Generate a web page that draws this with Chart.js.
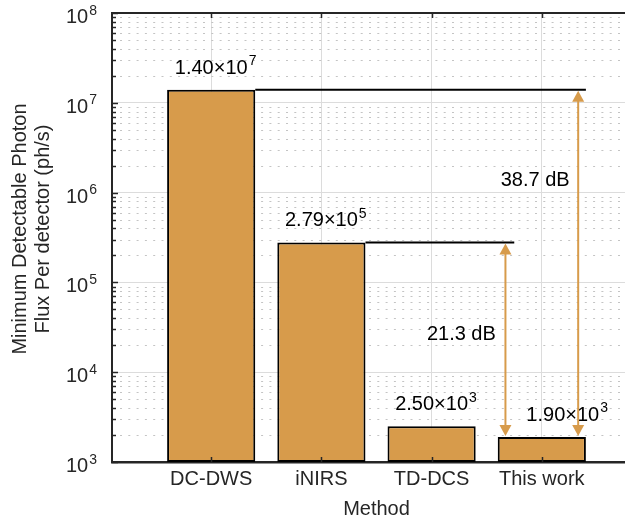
<!DOCTYPE html>
<html>
<head>
<meta charset="utf-8">
<script src="https://cdn.jsdelivr.net/npm/chart.js@4/dist/chart.umd.min.js"></script>
<style>
  html, body { margin: 0; padding: 0; background: #fff; overflow: hidden; }
  #wrap { width: 625px; height: 522px; overflow: hidden; }
  canvas { display: block; }
</style>
</head>
<body>
<div id="wrap">
  <canvas id="fluxChart" width="660" height="522" style="width:660px;height:522px"></canvas>
</div>
<script>
  var methods = ['DC-DWS', 'iNIRS', 'TD-DCS', 'This work'];
  var positions = [1, 2, 3, 4];
  var minFlux = [1.40e7, 2.79e5, 2.50e3, 1.90e3];
  var fluxMantissa = ['1.40', '2.79', '2.50', '1.90'];
  var fluxExponent = ['7', '5', '3', '3'];
  var fluxLabelX = [1.04, 2.04, 3.04, 4.23];
  var decades = [3, 4, 5, 6, 7, 8];

  // dB gaps between the reference methods and this work
  var gapFrom = [1.40e7, 2.79e5];
  var gapTo = [1.90e3, 1.90e3];
  var gapText = ['38.7 dB', '21.3 dB'];
  var gapArrowX = [4.33, 3.67];
  var gapLineStart = [1.4, 2.4];
  var gapLineEnd = [4.4, 3.75];
  var gapLabelX = [3.94, 3.27];
  var gapLabelY = [1.35e6, 2.6e4];

  var FONT = '"Liberation Sans", Arial, Helvetica, sans-serif';
  var INK = '#262626';
  var BAR = '#d79b4b';

  // number like 10^7 : base text with a raised exponent
  function drawPower(ctx, base, exp, x, y, size, supSize, align) {
    ctx.font = size + 'px ' + FONT;
    var wb = ctx.measureText(base).width;
    ctx.font = supSize + 'px ' + FONT;
    var we = ctx.measureText(exp).width;
    var left = align === 'right' ? x - wb - we - 1 : x - (wb + we + 1) / 2;
    ctx.textAlign = 'left';
    ctx.textBaseline = 'alphabetic';
    ctx.font = size + 'px ' + FONT;
    ctx.fillText(base, left, y);
    ctx.font = supSize + 'px ' + FONT;
    ctx.fillText(exp, left + wb + 1, y - 8.5);
  }

  function arrowHead(ctx, x, y, dir) {
    ctx.beginPath();
    ctx.moveTo(x, y);
    ctx.lineTo(x - 6, y + dir * 11);
    ctx.lineTo(x + 6, y + dir * 11);
    ctx.closePath();
    ctx.fill();
  }

  var minorGrid = {
    id: 'minorGrid',
    beforeDatasetsDraw: function (chart) {
      var ctx = chart.ctx, area = chart.chartArea, y = chart.scales.y;
      ctx.save();
      ctx.strokeStyle = '#c4c4c4';
      ctx.lineWidth = 1;
      ctx.setLineDash([2, 6.3]);
      decades.slice(0, -1).forEach(function (d) {
        for (var m = 2; m <= 9; m++) {
          var py = Math.round(y.getPixelForValue(m * Math.pow(10, d))) + 0.5;
          ctx.beginPath();
          ctx.moveTo(area.left + 8, py);
          ctx.lineTo(area.right, py);
          ctx.stroke();
        }
      });
      ctx.restore();
    }
  };

  var annotations = {
    id: 'annotations',
    afterDatasetsDraw: function (chart) {
      var ctx = chart.ctx, x = chart.scales.x, y = chart.scales.y;
      ctx.save();

      // value labels over the bars
      ctx.fillStyle = '#000';
      minFlux.forEach(function (v, i) {
        drawPower(ctx, fluxMantissa[i] + '\u00d710', fluxExponent[i],
          x.getPixelForValue(fluxLabelX[i]), y.getPixelForValue(v) - 16, 20, 14, 'center');
      });

      gapFrom.forEach(function (v, i) {
        var top = y.getPixelForValue(v);
        var bottom = y.getPixelForValue(gapTo[i]);
        var ax = x.getPixelForValue(gapArrowX[i]);

        ctx.strokeStyle = '#000';
        ctx.lineWidth = 2;
        ctx.beginPath();
        ctx.moveTo(x.getPixelForValue(gapLineStart[i]), top);
        ctx.lineTo(x.getPixelForValue(gapLineEnd[i]), top);
        ctx.stroke();

        ctx.strokeStyle = BAR;
        ctx.fillStyle = BAR;
        ctx.beginPath();
        ctx.moveTo(ax, top + 8);
        ctx.lineTo(ax, bottom - 8);
        ctx.stroke();
        arrowHead(ctx, ax, top + 1, 1);
        arrowHead(ctx, ax, bottom - 1, -1);

        ctx.fillStyle = '#000';
        ctx.font = '20px ' + FONT;
        ctx.textAlign = 'center';
        ctx.textBaseline = 'middle';
        ctx.fillText(gapText[i], x.getPixelForValue(gapLabelX[i]), y.getPixelForValue(gapLabelY[i]));
      });
      ctx.restore();
    },
    afterDraw: function (chart) {
      var ctx = chart.ctx, area = chart.chartArea, x = chart.scales.x, y = chart.scales.y;
      ctx.save();
      ctx.strokeStyle = INK;
      ctx.fillStyle = INK;

      // top box edge
      ctx.lineWidth = 2;
      ctx.beginPath();
      ctx.moveTo(area.left - 1, area.top);
      ctx.lineTo(area.right, area.top);
      ctx.stroke();

      // inward tick marks
      ctx.lineWidth = 1.5;
      positions.forEach(function (p) {
        var px = Math.round(x.getPixelForValue(p)) + 0.5;
        ctx.beginPath();
        ctx.moveTo(px, area.bottom);
        ctx.lineTo(px, area.bottom - 5);
        ctx.moveTo(px, area.top);
        ctx.lineTo(px, area.top + 5);
        ctx.stroke();
      });
      decades.forEach(function (d, k) {
        for (var m = 1; m <= 9; m++) {
          if (m > 1 && k === decades.length - 1) break;
          var py = Math.round(y.getPixelForValue(m * Math.pow(10, d))) + 0.5;
          ctx.beginPath();
          ctx.moveTo(area.left, py);
          ctx.lineTo(area.left + (m === 1 ? 6 : 4), py);
          ctx.stroke();
        }
      });

      // y tick labels
      decades.forEach(function (d) {
        var py = y.getPixelForValue(Math.pow(10, d));
        drawPower(ctx, '10', String(d), 97, py + 10, 20, 14, 'right');
      });

      // x tick labels
      ctx.font = '20px ' + FONT;
      ctx.textAlign = 'center';
      ctx.textBaseline = 'alphabetic';
      methods.forEach(function (m, i) {
        ctx.fillText(m, x.getPixelForValue(positions[i]), 485);
      });
      ctx.fillText('Method', (area.left + area.right) / 2, 515);

      // y axis title
      ctx.translate(0, 229);
      ctx.rotate(-Math.PI / 2);
      ctx.textBaseline = 'middle';
      ctx.fillText('Minimum Detectable Photon', 0, 20);
      ctx.fillText('Flux Per detector (ph/s)', 0, 43);
      ctx.restore();
    }
  };

  new Chart(document.getElementById('fluxChart').getContext('2d'), {
    type: 'bar',
    data: {
      datasets: [{
        data: positions.map(function (p, i) { return { x: p, y: minFlux[i] }; }),
        backgroundColor: BAR,
        borderColor: '#000',
        borderWidth: 2,
        borderSkipped: false,
        barPercentage: 0.8,
        categoryPercentage: 1
      }]
    },
    options: {
      responsive: false,
      animation: false,
      layout: { padding: { left: 112, top: 13, right: 19, bottom: 60 } },
      plugins: { legend: { display: false }, tooltip: { enabled: false } },
      scales: {
        x: {
          type: 'linear',
          min: 0.1,
          max: 4.9,
          offset: false,
          afterBuildTicks: function (scale) {
            scale.ticks = positions.map(function (p) { return { value: p }; });
          },
          ticks: { display: false },
          grid: { color: '#dcdcdc', lineWidth: 1, drawTicks: false, offset: false },
          border: { color: INK, width: 2.5 }
        },
        y: {
          type: 'logarithmic',
          min: 1e3,
          max: 1e8,
          afterBuildTicks: function (scale) {
            scale.ticks = decades.map(function (d) { return { value: Math.pow(10, d) }; });
          },
          ticks: { display: false },
          grid: { color: '#dcdcdc', lineWidth: 1, drawTicks: false },
          border: { color: INK, width: 2 }
        }
      }
    },
    plugins: [minorGrid, annotations]
  });
</script>
</body>
</html>
